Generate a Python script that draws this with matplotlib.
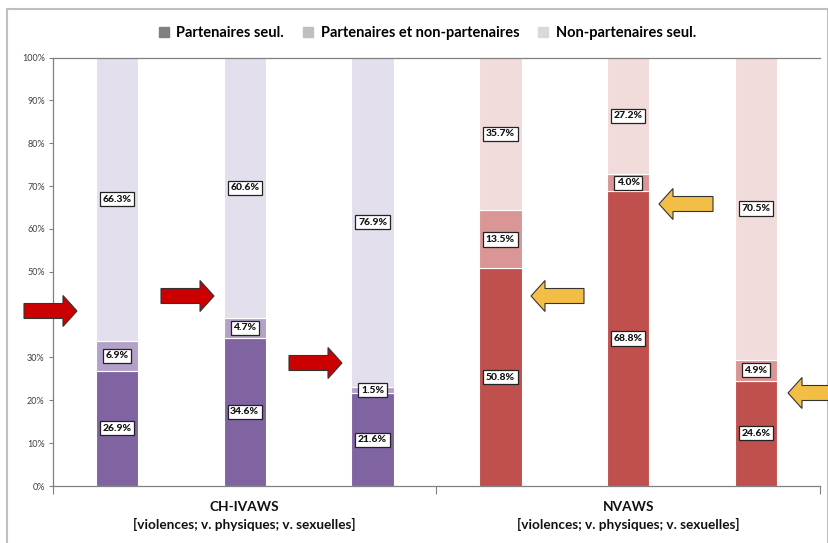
import matplotlib.pyplot as plt
import numpy as np
from matplotlib.patches import Polygon, Rectangle

plt.rcParams['font.family'] = ['Lato', 'DejaVu Sans']

# valeurs (%)
partenaires_seul = [26.9, 34.6, 21.6, 50.8, 68.8, 24.6]
partenaires_et_non = [6.9, 4.7, 1.5, 13.5, 4.0, 4.9]
non_partenaires_seul = [66.3, 60.6, 76.9, 35.7, 27.2, 70.5]
enquetes = ['CH-IVAWS\n[violences; v. physiques; v. sexuelles]',
            'NVAWS\n[violences; v. physiques; v. sexuelles]']
legende = ['Partenaires seul.', 'Partenaires et non-partenaires', 'Non-partenaires seul.']

couleurs_ch = ['#8064A2', '#B3A2C7', '#E4DFEC']
couleurs_nv = ['#C0504D', '#D99694', '#F2DCDB']

W, H = 829, 543
fig = plt.figure(figsize=(W / 100, H / 100), dpi=100)
ax = fig.add_axes([53 / W, 1 - 486 / H, (820 - 53) / W, (486 - 57.5) / H])

x = np.arange(6)
couleurs = [couleurs_ch if i < 3 else couleurs_nv for i in x]
series = [partenaires_seul, partenaires_et_non, non_partenaires_seul]
bas = np.zeros(6)
for k, s in enumerate(series):
    s = np.array(s)
    ax.bar(x, s, bottom=bas, width=0.33, color=[c[k] for c in couleurs],
           edgecolor='white', linewidth=0.8, zorder=2)
    for xi, b, v in zip(x, bas, s):
        ax.text(xi, b + v / 2, f'{v:.1f}%', ha='center', va='center',
                fontsize=7.5, fontweight='black', color='#111111', zorder=5,
                bbox=dict(boxstyle='square,pad=0.25', fc='white', ec='#222222', lw=0.9))
    bas += s

ax.set_xlim(-0.5, 5.5)
ax.set_ylim(0, 100)
ax.set_yticks(np.arange(0, 101, 10))
ax.set_yticklabels([f'{v}%' for v in range(0, 101, 10)], fontsize=6.5, color='#404040')
ax.tick_params(axis='y', length=3, width=0.8, color='#808080', pad=3)
ax.set_xticks([-0.5, 2.5, 5.5])
ax.set_xticklabels([])
ax.tick_params(axis='x', length=6, width=0.8, color='#808080')
for sp in ['left', 'bottom', 'top']:
    ax.spines[sp].set_color('#808080')
    ax.spines[sp].set_linewidth(0.9)
ax.spines['right'].set_visible(False)

for xi, lab in zip([1, 4], enquetes):
    ax.text(xi, -3.6, lab, ha='center', va='top', fontsize=9.8, fontweight='bold',
            color='#111111', linespacing=1.45)

# légende
handles = [Rectangle((0, 0), 1, 1, color=c) for c in ['#808080', '#BFBFBF', '#D9D9D9']]
fig.legend(handles, legende, loc='center', bbox_to_anchor=(427.5 / W, 1 - 33 / H), ncol=3,
           frameon=False, prop=dict(weight='bold', size=10.5), handlelength=0.7,
           handleheight=0.7, handletextpad=0.5, columnspacing=1.3)

# cadre extérieur
fig.patches.append(Rectangle((7 / W, -0.1), (828 - 7) / W, 1.1 - 9 / H,
                             transform=fig.transFigure, fill=False,
                             ec='#BFBFBF', lw=1.5, zorder=0))


def fleche(x0, yc, longueur, direction, couleur):
    # flèche en pixels : corps 15 px, tête 31 px de haut et 14 px de long
    corps, tete, tl = 7.5, 15.5, 14
    d = direction
    base = longueur - tl
    pts = [(0, -corps), (base, -corps), (base, -tete), (longueur, 0),
           (base, tete), (base, corps), (0, corps)]
    pts = [(x0 + d * px, H - (yc + py)) for px, py in pts]
    pts = [(px / W, py / H) for px, py in pts]
    fig.patches.append(Polygon(pts, closed=True, transform=fig.transFigure,
                               fc=couleur, ec='#333333', lw=0.8, zorder=10))


fleche(24, 311, 53, 1, '#CC0000')
fleche(161, 296, 53, 1, '#CC0000')
fleche(289, 363, 53, 1, '#CC0000')
fleche(584, 296, 53, -1, '#F3BE45')
fleche(713, 204, 54, -1, '#F3BE45')
fleche(842, 393, 54, -1, '#F3BE45')

fig.savefig('out.png', dpi=100)
